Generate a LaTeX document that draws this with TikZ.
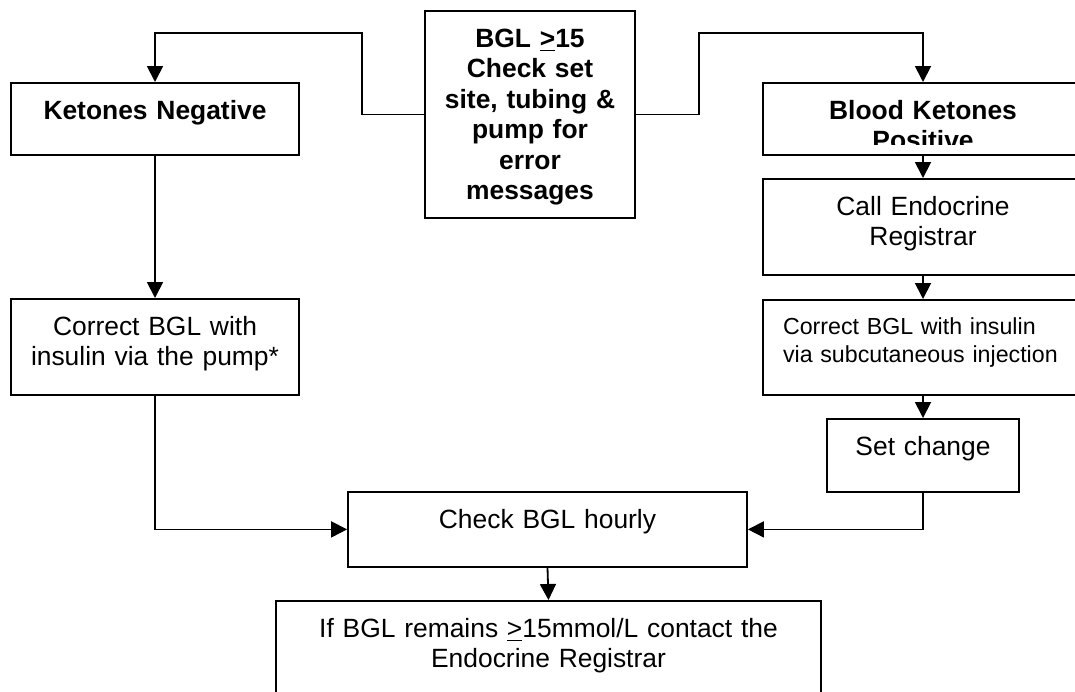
\documentclass[tikz,border=0pt]{standalone}
\usepackage{fontspec}
\setmainfont{Liberation Sans}
\usepackage{tikz}
\usetikzlibrary{arrows.meta}

\begin{document}
\begin{tikzpicture}[x=0.5pt,y=-0.5pt,>={Triangle[length=8pt,width=8pt]},
    box/.style={draw,line width=0.9pt,anchor=north,align=center,inner xsep=0pt,inner ysep=8.8pt,text height=9.5pt,font=\fontsize{13.2}{15.2}\selectfont},
    bbox/.style={box,font=\fontsize{13.2}{15.2}\selectfont\bfseries},
    link/.style={->,line width=0.9pt}]
        \clip (0,0) rectangle (1075,691);
        \fill [white] (0,0) rectangle (1075,691);
        \node [bbox,text width=105pt,text depth=76.4pt] (bgl) at (530,10) {BGL \underline{>}15\\Check set\\site, tubing \&\\pump for\\error\\messages};
        \node [bbox,text width=144pt,text depth=8.9pt] (neg) at (155,82) {Ketones Negative};
        \node [bbox,text width=160pt,text depth=8.9pt] (pos) at (923,82) {Blood Ketones\\Positive};
        % text of the positive box runs out of its frame
        \fill [white] ([xshift=1.2pt,yshift=5.5pt]pos.south west) rectangle ([xshift=-1.2pt,yshift=1.2pt]pos.south east);
        \node [box,text width=160pt,text depth=20.9pt] (call) at (923,178) {Call Endocrine\\Registrar};
        \node [box,align=left,inner xsep=10pt,text width=140pt,text height=8.3pt,text depth=21.6pt,font=\fontsize{11.6}{14}\selectfont] (sub) at (923,299) {Correct BGL with insulin\\via subcutaneous injection};
        \node [box,text width=144pt,text depth=20.9pt] (corr) at (155,298) {Correct BGL with\\insulin via the pump*};
        \node [box,text width=96pt,text depth=9.4pt] (set) at (923,418) {Set change};
        \node [box,text width=199.5pt,text depth=10.4pt] (check) at (547.5,491) {Check BGL hourly};
        \node [box,text width=272.5pt,text depth=32.9pt] (if) at (548.5,600) {If BGL remains \underline{>}15mmol/L contact the\\Endocrine Registrar};
        \coordinate (lt) at (362,33);
        \coordinate (rt) at (699,33);
        \draw [link] (bgl.west) -| (lt) -| (neg.north);
        \draw [link] (bgl.east) -| (rt) -| (pos.north);
        \draw [link] (neg.south) -- (corr.north);
        \draw [link] (pos.south) -- (call.north);
        \draw [link] (call.south) -- (sub.north);
        \draw [link] (sub.south) -- (set.north);
        \draw [link] (corr.south) |- (check.west);
        \draw [link] (set.south) |- (check.east);
        \draw [link] (check.south) -- (if.north);
    \end{tikzpicture}
\end{document}
